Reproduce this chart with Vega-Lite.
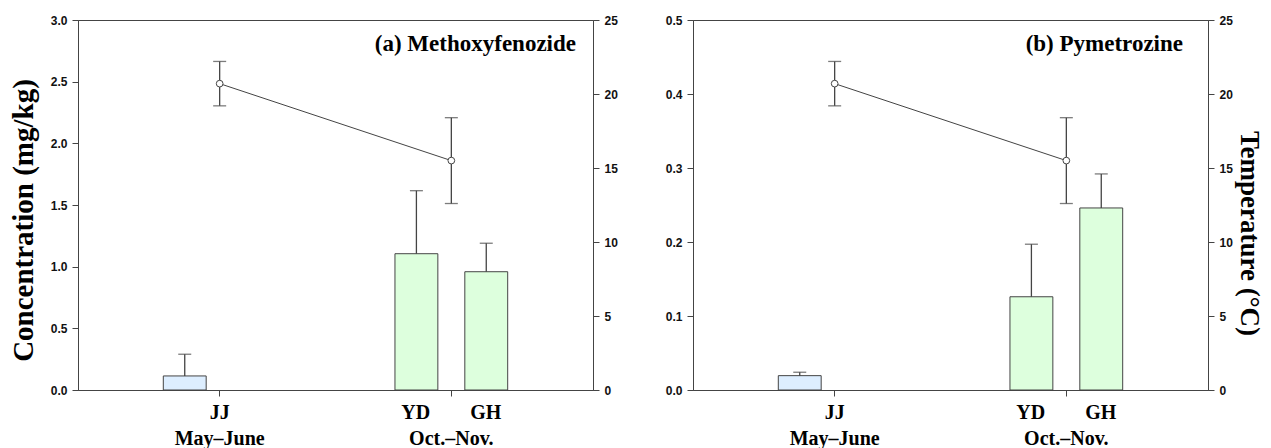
{
  "$schema": "https://vega.github.io/schema/vega-lite/v6.json",
  "background": "white",
  "padding": {"left": 8, "top": 13, "right": 0, "bottom": 0},
  "spacing": 46,
  "config": {
    "view": {"stroke": "#444", "strokeWidth": 1},
    "axis": {
      "domainColor": "#444",
      "tickColor": "#444",
      "labelFont": "Liberation Sans",
      "labelFontWeight": "bold",
      "labelFontSize": 12,
      "labelColor": "#111",
      "titleFont": "Liberation Serif",
      "titleFontWeight": "bold",
      "titleFontSize": 29,
      "titleColor": "#000",
      "grid": false,
      "tickSize": 6,
      "labelPadding": 5
    }
  },
  "datasets": {
    "a_conc": [
      {"season": "May–June", "site": "JJ", "rank": 1, "conc": 0.114, "upper": 0.29},
      {"season": "Oct.–Nov.", "site": "YD", "rank": 1, "conc": 1.105, "upper": 1.616},
      {"season": "Oct.–Nov.", "site": "GH", "rank": 2, "conc": 0.959, "upper": 1.19}
    ],
    "a_temp": [
      {"season": "May–June", "temp": 20.7, "lo": 19.2, "hi": 22.2},
      {"season": "Oct.–Nov.", "temp": 15.5, "lo": 12.6, "hi": 18.4}
    ],
    "b_conc": [
      {"season": "May–June", "site": "JJ", "rank": 1, "conc": 0.0194, "upper": 0.024},
      {"season": "Oct.–Nov.", "site": "YD", "rank": 1, "conc": 0.126, "upper": 0.197},
      {"season": "Oct.–Nov.", "site": "GH", "rank": 2, "conc": 0.246, "upper": 0.292}
    ],
    "b_temp": [
      {"season": "May–June", "temp": 20.7, "lo": 19.2, "hi": 22.2},
      {"season": "Oct.–Nov.", "temp": 15.5, "lo": 12.6, "hi": 18.4}
    ]
  },
  "hconcat": [
    {
      "width": 515,
      "height": 370,
      "title": {"text": "(a) Methoxyfenozide", "frame": "group", "anchor": "end", "offset": -42, "dx": -17, "fontSize": 23, "font": "Liberation Serif", "fontWeight": "bold", "color": "#000"},
      "encoding": {
        "x": {
          "field": "season", "type": "nominal", "sort": ["May–June", "Oct.–Nov."],
          "scale": {"domain": ["May–June", "Oct.–Nov."], "paddingInner": 0.397, "paddingOuter": 0.31},
          "axis": {"title": null, "labelAngle": 0, "labelFont": "Liberation Serif", "labelFontSize": 20, "labelColor": "#000", "labelLineHeight": 26, "labelPadding": 6, "labelBaseline": "top",
            "labelExpr": "datum.value == 'May–June' ? ['JJ', 'May–June'] : ['\u00a0\u00a0\u00a0YD\u00a0\u00a0\u00a0\u00a0\u00a0\u00a0\u00a0\u00a0GH', 'Oct.–Nov.']"}
        }
      },
      "layer": [
        {
          "data": {"name": "a_conc"},
          "encoding": {
            "xOffset": {"field": "rank", "type": "nominal", "scale": {"domain": [1, 2], "paddingInner": 0.386, "paddingOuter": 0.193}},
            "y": {"field": "conc", "type": "quantitative", "scale": {"domain": [0, 3], "nice": false},
              "axis": {"orient": "left", "title": "Concentration  (mg/kg)", "values": [0, 0.5, 1, 1.5, 2, 2.5, 3], "format": ".1f", "titlePadding": 12, "titleY": 200}}
          },
          "layer": [
            {"mark": {"type": "bar", "stroke": "#444", "strokeWidth": 1},
             "encoding": {"color": {"field": "season", "type": "nominal", "scale": {"domain": ["May–June", "Oct.–Nov."], "range": ["#ddeeff", "#ddffdd"]}, "legend": null}}},
            {"mark": {"type": "rule", "color": "#444", "strokeWidth": 1.3}, "encoding": {"y2": {"field": "upper"}}},
            {"mark": {"type": "tick", "orient": "horizontal", "size": 13, "thickness": 1.3, "color": "#444"}, "encoding": {"y": {"field": "upper", "type": "quantitative"}}}
          ]
        },
        {
          "data": {"name": "a_temp"},
          "encoding": {
            "y": {"field": "temp", "type": "quantitative", "scale": {"domain": [0, 25], "nice": false},
              "axis": {"orient": "right", "title": null, "values": [0, 5, 10, 15, 20, 25]}}
          },
          "layer": [
            {"mark": {"type": "rule", "color": "#444", "strokeWidth": 1.3}, "encoding": {"y": {"field": "lo", "type": "quantitative"}, "y2": {"field": "hi"}}},
            {"mark": {"type": "tick", "orient": "horizontal", "size": 13, "thickness": 1.3, "color": "#444"}, "encoding": {"y": {"field": "lo", "type": "quantitative"}}},
            {"mark": {"type": "tick", "orient": "horizontal", "size": 13, "thickness": 1.3, "color": "#444"}, "encoding": {"y": {"field": "hi", "type": "quantitative"}}},
            {"mark": {"type": "line", "color": "#444", "strokeWidth": 1}, "encoding": {}},
            {"mark": {"type": "point", "filled": true, "fill": "white", "stroke": "#444", "strokeWidth": 1, "size": 45, "opacity": 1}, "encoding": {}}
          ]
        }
      ],
      "resolve": {"scale": {"y": "independent"}}
    },
    {
      "width": 515,
      "height": 370,
      "title": {"text": "(b) Pymetrozine", "frame": "group", "anchor": "end", "offset": -42, "dx": -25, "fontSize": 23, "font": "Liberation Serif", "fontWeight": "bold", "color": "#000"},
      "encoding": {
        "x": {
          "field": "season", "type": "nominal", "sort": ["May–June", "Oct.–Nov."],
          "scale": {"domain": ["May–June", "Oct.–Nov."], "paddingInner": 0.397, "paddingOuter": 0.31},
          "axis": {"title": null, "labelAngle": 0, "labelFont": "Liberation Serif", "labelFontSize": 20, "labelColor": "#000", "labelLineHeight": 26, "labelPadding": 6, "labelBaseline": "top",
            "labelExpr": "datum.value == 'May–June' ? ['JJ', 'May–June'] : ['\u00a0\u00a0\u00a0YD\u00a0\u00a0\u00a0\u00a0\u00a0\u00a0\u00a0\u00a0GH', 'Oct.–Nov.']"}
        }
      },
      "layer": [
        {
          "data": {"name": "b_conc"},
          "encoding": {
            "xOffset": {"field": "rank", "type": "nominal", "scale": {"domain": [1, 2], "paddingInner": 0.386, "paddingOuter": 0.193}},
            "y": {"field": "conc", "type": "quantitative", "scale": {"domain": [0, 0.5], "nice": false},
              "axis": {"orient": "left", "title": null, "values": [0, 0.1, 0.2, 0.3, 0.4, 0.5], "format": ".1f"}}
          },
          "layer": [
            {"mark": {"type": "bar", "stroke": "#444", "strokeWidth": 1},
             "encoding": {"color": {"field": "season", "type": "nominal", "scale": {"domain": ["May–June", "Oct.–Nov."], "range": ["#ddeeff", "#ddffdd"]}, "legend": null}}},
            {"mark": {"type": "rule", "color": "#444", "strokeWidth": 1.3}, "encoding": {"y2": {"field": "upper"}}},
            {"mark": {"type": "tick", "orient": "horizontal", "size": 13, "thickness": 1.3, "color": "#444"}, "encoding": {"y": {"field": "upper", "type": "quantitative"}}}
          ]
        },
        {
          "data": {"name": "b_temp"},
          "encoding": {
            "y": {"field": "temp", "type": "quantitative", "scale": {"domain": [0, 25], "nice": false},
              "axis": {"orient": "right", "title": "Temperature  (°C)", "titleFontSize": 27, "values": [0, 5, 10, 15, 20, 25], "titlePadding": 2, "titleY": 213}}
          },
          "layer": [
            {"mark": {"type": "rule", "color": "#444", "strokeWidth": 1.3}, "encoding": {"y": {"field": "lo", "type": "quantitative"}, "y2": {"field": "hi"}}},
            {"mark": {"type": "tick", "orient": "horizontal", "size": 13, "thickness": 1.3, "color": "#444"}, "encoding": {"y": {"field": "lo", "type": "quantitative"}}},
            {"mark": {"type": "tick", "orient": "horizontal", "size": 13, "thickness": 1.3, "color": "#444"}, "encoding": {"y": {"field": "hi", "type": "quantitative"}}},
            {"mark": {"type": "line", "color": "#444", "strokeWidth": 1}, "encoding": {}},
            {"mark": {"type": "point", "filled": true, "fill": "white", "stroke": "#444", "strokeWidth": 1, "size": 45, "opacity": 1}, "encoding": {}}
          ]
        }
      ],
      "resolve": {"scale": {"y": "independent"}}
    }
  ]
}
